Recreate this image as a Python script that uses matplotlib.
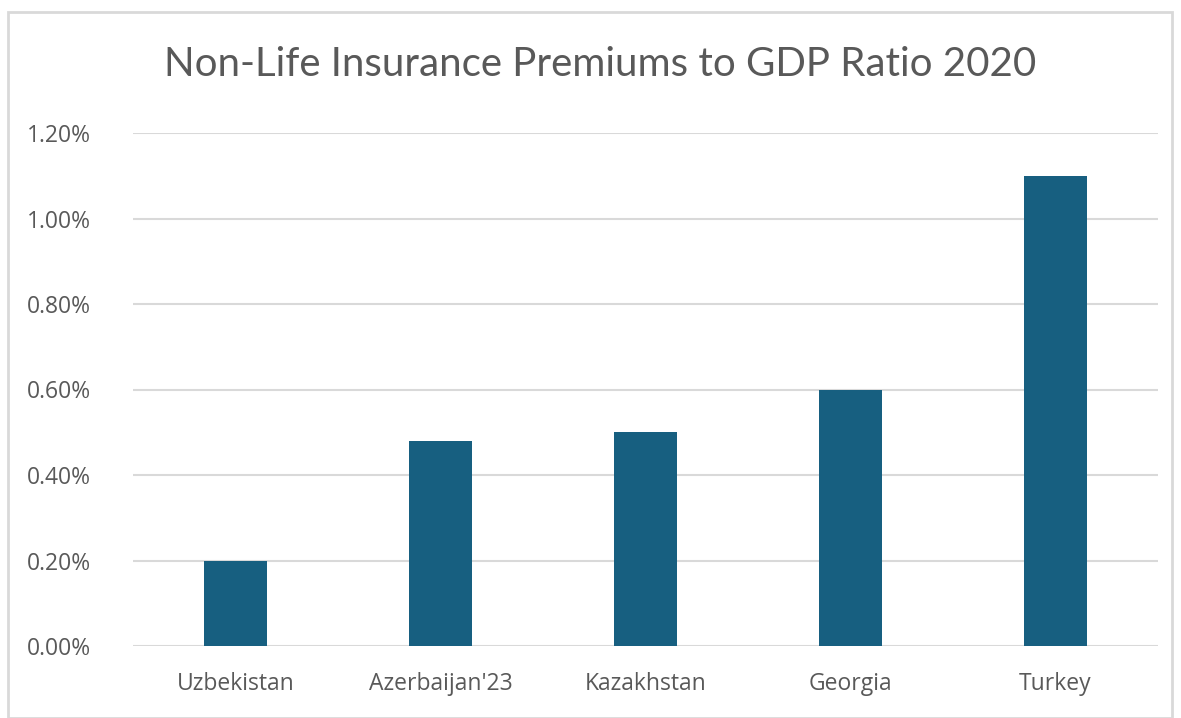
import matplotlib; matplotlib.use('Agg')
import matplotlib.pyplot as plt
from matplotlib.patches import Rectangle
from matplotlib.ticker import PercentFormatter

countries = ['Uzbekistan', "Azerbaijan'23", 'Kazakhstan', 'Georgia', 'Turkey']
ratio_pct = [0.20, 0.48, 0.50, 0.60, 1.10]
yticks = [0.0, 0.2, 0.4, 0.6, 0.8, 1.0, 1.2]

plt.rcParams['font.family'] = ['Open Sans', 'DejaVu Sans']
grey = '#595959'

fig = plt.figure(figsize=(11.81, 7.18), dpi=100)
fig.patches.append(Rectangle((8/1181, 0.0), 1164/1181, 1 - 12/718, transform=fig.transFigure,
                             fill=False, edgecolor='#d9d9d9', lw=2))
ax = fig.add_axes([133/1181, 1 - 646/718, 1025/1181, 513/718])

x = range(len(countries))
ax.bar(x, ratio_pct, width=0.31, color='#175f80', zorder=3)
ax.set_xlim(-0.5, len(countries) - 0.5)
ax.set_ylim(0, 1.2)
ax.set_yticks(yticks)
ax.yaxis.set_major_formatter(PercentFormatter(decimals=2))
ax.set_xticks(list(x))
ax.set_xticklabels(countries)
ax.grid(axis='y', color='#d9d9d9', lw=1.5, zorder=0)
for s in ax.spines.values():
    s.set_visible(False)
ax.tick_params(length=0, labelsize=16.5, labelcolor=grey)
ax.tick_params(axis='y', pad=30)
ax.tick_params(axis='x', pad=19)

fig.text(600/1181, 1 - 65/718, 'Non-Life Insurance Premiums to GDP Ratio 2020',
         ha='center', va='center', fontsize=29, color=grey, family=['Lato', 'DejaVu Sans'])

fig.savefig('out.png', dpi=100)
